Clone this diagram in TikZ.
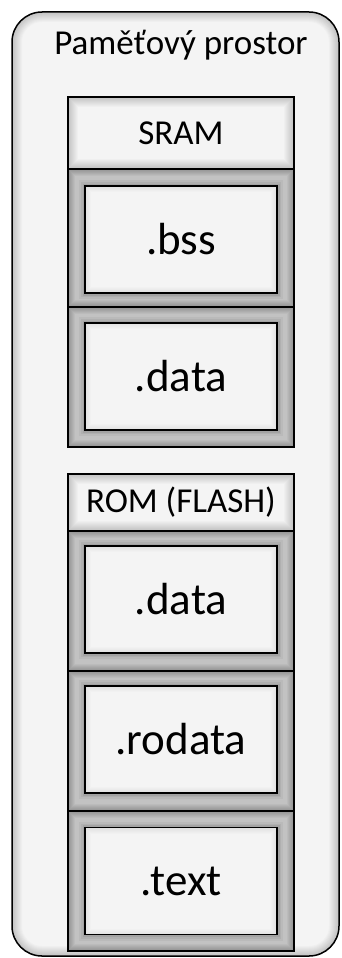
\documentclass[tikz,border=0pt]{standalone}
\usepackage{fontspec}
\setmainfont{Carlito}
\definecolor{paper}{HTML}{F4F4F4}
\definecolor{cellgray}{HTML}{C2C2C2}
\tikzset{
  % soft shadow along the inside of a rectangular node
  inshade/.style 2 args={path picture={
    \foreach \w in {2,4,...,#2}
      \draw[line width=\w pt, draw=black, draw opacity=#1]
        (path picture bounding box.north west) rectangle
        (path picture bounding box.south east);}},
  % same, for the rounded outer frame
  inshaderound/.style={path picture={
    \foreach \w in {2,4,...,20}
      \draw[line width=\w pt, draw=black, draw opacity=0.02, rounded corners=30pt]
        (path picture bounding box.north west) rectangle
        (path picture bounding box.south east);}},
  frame/.style={draw=black, line width=1.5pt, inner sep=0pt, rectangle},
  header/.style={frame, fill=paper, inshade={0.02}{20}, minimum width=226pt,
    font=\fontsize{35}{37}\selectfont},
  cell/.style={frame, fill=cellgray, inshade={0.035}{14}, minimum width=226pt,
    minimum height=140pt},
  segment/.style={frame, fill=paper, minimum width=192pt,
    minimum height=107pt, font=\fontsize{45}{47}\selectfont,
    preaction={draw=black, draw opacity=0.04, line width=12pt},
    preaction={draw=black, draw opacity=0.05, line width=8pt},
    preaction={draw=black, draw opacity=0.07, line width=5pt},
    inshade={0.012}{12}},
}
\begin{document}
\begin{tikzpicture}[x=1pt,y=-1pt]
\useasboundingbox (0,0) rectangle (341,958);
\fill[white] (0,0) rectangle (341,958);

% whole memory space
\node[draw=black, line width=1.5pt, fill=paper, rounded corners=30pt,
      inshaderound, minimum width=327pt, minimum height=944pt, inner sep=0pt]
      (space) at (175.5,484) {};
\node[font=\fontsize{35}{37}\selectfont] (title) at (181,45) {Paměťový prostor};

% SRAM
\node[header, minimum height=72pt] (sram) at (181,133) {SRAM};
\node[cell, minimum height=138pt] (bsscell) at (181,238) {};
\node[segment] (bss) at (181,239.5) {.bss};
\node[cell, minimum height=140pt] (sdatacell) at (181,377) {};
\node[segment] (sdata) at (181,376.5) {.data};

% ROM (FLASH)
\node[header, minimum height=57pt] (rom) at (181,502.5) {ROM (FLASH)};
\node[cell] (rdatacell) at (181,601) {};
\node[segment] (rdata) at (181,599.5) {.data};
\node[cell] (rodatacell) at (181,741) {};
\node[segment] (rodata) at (181,739.5) {.rodata};
\node[cell] (textcell) at (181,881) {};
\node[segment] (text) at (181,881) {.text};
\end{tikzpicture}
\end{document}
